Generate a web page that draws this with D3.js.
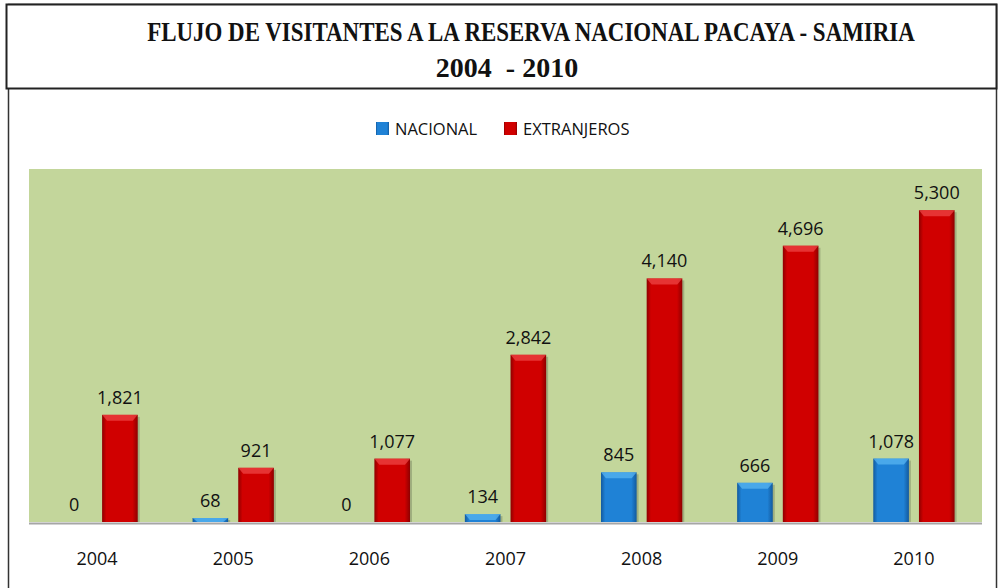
<!DOCTYPE html>
<html>
<head>
<meta charset="utf-8">
<script src="https://cdn.jsdelivr.net/npm/d3@7"></script>
<style>
  body { margin: 0; background: #fff; }
  svg { display: block; }
</style>
</head>
<body>
<div class="chart-container"></div>
<script>
//! CONSTS
const WIDTH = 998
const HEIGHT = 588

//! DATA
const years = ['2004', '2005', '2006', '2007', '2008', '2009', '2010']
const series = ['NACIONAL', 'EXTRANJEROS']
const nacional = [0, 68, 0, 134, 845, 666, 1078]
const extranjeros = [1821, 921, 1077, 2842, 4140, 4696, 5300]
const titleLines = ['FLUJO DE VISITANTES A LA RESERVA NACIONAL PACAYA - SAMIRIA', '2004  - 2010']

const rows = years.map((y, i) => ({ year: y, NACIONAL: nacional[i], EXTRANJEROS: extranjeros[i] }))

const svg = d3.select('.chart-container')
  .append('svg')
  .attr('width', WIDTH)
  .attr('height', HEIGHT)

const defs = svg.append('defs')

// bar gradients (darker edges, like the excel bevel)
const palette = {
  NACIONAL: { edge: '#135a9e', mid: '#1f82d6', top: '#5bb8f2' },
  EXTRANJEROS: { edge: '#8e0000', mid: '#d00000', top: '#f04848' }
}
series.forEach(s => {
  const g = defs.append('linearGradient').attr('id', 'grad-' + s).attr('x1', 0).attr('x2', 1).attr('y1', 0).attr('y2', 0)
  g.append('stop').attr('offset', '0%').attr('stop-color', palette[s].edge)
  g.append('stop').attr('offset', '12%').attr('stop-color', palette[s].mid)
  g.append('stop').attr('offset', '85%').attr('stop-color', palette[s].mid)
  g.append('stop').attr('offset', '100%').attr('stop-color', palette[s].edge)
})

//! FRAMES
svg.append('rect')
  .attr('x', 8.5).attr('y', 4.5)
  .attr('width', WIDTH - 10).attr('height', HEIGHT + 10)
  .attr('fill', 'none').attr('stroke', '#333').attr('stroke-width', 1.5)

svg.append('rect')
  .attr('x', 6.5).attr('y', 4.5)
  .attr('width', WIDTH - 8).attr('height', 84)
  .attr('fill', '#fff').attr('stroke', '#222').attr('stroke-width', 2)

// title: cambria-like condensed look by squeezing the first line
const titleLayout = [
  { x: 531, y: 41, size: 27, sx: 0.85 },
  { x: 507, y: 77, size: 28, sx: 1 }
]
svg.selectAll('.title')
  .data(titleLines)
  .enter()
  .append('text')
  .attr('class', 'title')
  .attr('transform', (d, i) => `translate(${titleLayout[i].x},${titleLayout[i].y}) scale(${titleLayout[i].sx},1)`)
  .attr('text-anchor', 'middle')
  .attr('font-family', 'Liberation Serif, serif')
  .attr('font-weight', 'bold')
  .attr('font-size', (d, i) => titleLayout[i].size)
  .style('white-space', 'pre')
  .attr('fill', '#111')
  .text(d => d)

//! SCALES
const plot = { left: 29, right: 982, top: 169, bottom: 522 }

const x0 = d3.scaleBand()
  .domain(years)
  .range([plot.left, plot.right])

const x1 = d3.scaleBand()
  .domain(series)
  .range([0, x0.bandwidth()])
  .paddingInner(0.22)
  .paddingOuter(0.6)

const y = d3.scaleLinear()
  .domain([0, 6000])
  .range([plot.bottom, plot.top])

// plot area
svg.append('rect')
  .attr('x', plot.left).attr('y', plot.top)
  .attr('width', plot.right - plot.left).attr('height', plot.bottom - plot.top)
  .attr('fill', '#c3d69b')

svg.append('line')
  .attr('x1', plot.left).attr('x2', plot.right)
  .attr('y1', plot.bottom + 1.5).attr('y2', plot.bottom + 1.5)
  .attr('stroke', '#a6a6a6').attr('stroke-width', 2)

//! BARS
const groups = svg.append('g')
  .selectAll('g')
  .data(rows)
  .enter()
  .append('g')
  .attr('transform', d => `translate(${x0(d.year)},0)`)

const bars = groups.selectAll('g.bar')
  .data(d => series.map(s => ({ key: s, value: d[s] })))
  .enter()
  .append('g')
  .attr('class', 'bar')
  .filter(d => d.value > 0)

// soft shadow
bars.append('rect')
  .attr('x', d => x1(d.key) + 2)
  .attr('y', d => y(d.value) + 2)
  .attr('width', x1.bandwidth())
  .attr('height', d => plot.bottom - y(d.value) - 2)
  .attr('fill', '#000').attr('opacity', 0.18)

bars.append('rect')
  .attr('x', d => x1(d.key))
  .attr('y', d => y(d.value))
  .attr('width', x1.bandwidth())
  .attr('height', d => plot.bottom - y(d.value))
  .attr('fill', d => `url(#grad-${d.key})`)

// top bevel
bars.append('path')
  .attr('d', d => {
    const h = Math.min(6, plot.bottom - y(d.value))
    const x = x1(d.key), w = x1.bandwidth(), t = y(d.value)
    return `M${x},${t}H${x + w}L${x + w - 5},${t + h}H${x + 5}Z`
  })
  .attr('fill', d => palette[d.key].top)
  .attr('opacity', 0.7)

//! LABELS
groups.selectAll('text.val')
  .data(d => series.map(s => ({ key: s, value: d[s] })))
  .enter()
  .append('text')
  .attr('class', 'val')
  .attr('x', d => x1(d.key) + x1.bandwidth() / 2)
  .attr('y', d => y(d.value) - 11)
  .attr('text-anchor', 'middle')
  .attr('font-family', 'Open Sans, sans-serif')
  .attr('font-size', 18)
  .attr('fill', '#111')
  .text(d => d3.format(',')(d.value))

svg.append('g')
  .selectAll('text')
  .data(years)
  .enter()
  .append('text')
  .attr('x', d => x0(d) + x0.bandwidth() / 2)
  .attr('y', 565)
  .attr('text-anchor', 'middle')
  .attr('font-family', 'Open Sans, sans-serif')
  .attr('font-size', 18)
  .attr('fill', '#111')
  .text(d => d)

//! LEGEND
const legendX = [376, 504]
const legend = svg.append('g')
  .selectAll('g')
  .data(series)
  .enter()
  .append('g')
  .attr('transform', (d, i) => `translate(${legendX[i]},122)`)

legend.append('rect')
  .attr('width', 13).attr('height', 13)
  .attr('fill', d => `url(#grad-${d})`)

legend.append('text')
  .attr('x', 19).attr('y', 12.5)
  .attr('font-family', 'Open Sans, sans-serif')
  .attr('font-size', 16.5)
  .attr('fill', '#111')
  .text(d => d)
</script>
</body>
</html>
